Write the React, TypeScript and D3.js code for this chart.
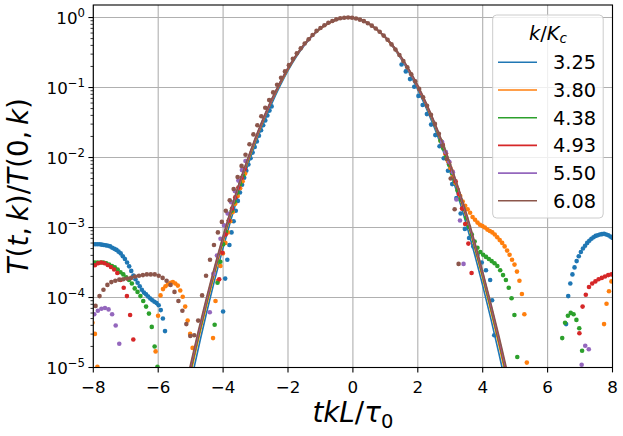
import * as d3 from "d3";

// figure geometry, px
const width = 623;
const height = 436;
const plot = { left: 93.3, right: 612.5, top: 5, bottom: 367.5 };
const font = "DejaVu Sans";

const kLabels = ["3.25", "3.80", "4.38", "4.93", "5.50", "6.08"];
const colors = ["#1f77b4", "#ff7f0e", "#2ca02c", "#d62728", "#9467bd", "#8c564b"];

const xTicks = [-8, -6, -4, -2, 0, 2, 4, 6, 8];
const yTickExp = [0, -1, -2, -3, -4, -5];

// fitted curves: log10 T(t,k)/T(0,k) at these tkL/tau0
const lineT = [-5.5, -5, -4.5, -4, -3.5, -3, -2.5, -2, -1.5, -1, -0.5, 0, 0.5, 1, 1.5, 2, 2.5, 3, 3.5, 4, 4.5, 5, 5.5];
const blueLine = [-6.36, -5.23, -4.2, -3.29, -2.49, -1.8, -1.23, -0.76, -0.4, -0.16, -0.03, -0.01, -0.09, -0.29, -0.6, -1.03, -1.56, -2.2, -2.96, -3.83, -4.8, -5.89, -7.09];
const orangeLine = [-6.19, -5.09, -4.1, -3.21, -2.43, -1.76, -1.19, -0.74, -0.39, -0.16, -0.03, 0, -0.09, -0.29, -0.59, -1.0, -1.52, -2.15, -2.88, -3.73, -4.68, -5.74, -6.91];
const greenLine = [-6.14, -5.05, -4.06, -3.18, -2.41, -1.74, -1.18, -0.73, -0.39, -0.15, -0.03, 0, -0.09, -0.28, -0.58, -0.99, -1.51, -2.13, -2.86, -3.7, -4.64, -5.69, -6.85];
const redLine = [-6.1, -5.01, -4.03, -3.16, -2.39, -1.73, -1.18, -0.73, -0.39, -0.15, -0.03, 0, -0.09, -0.28, -0.58, -0.99, -1.5, -2.12, -2.84, -3.67, -4.61, -5.65, -6.81];
const purpleLine = [-6.06, -4.98, -4.01, -3.14, -2.38, -1.72, -1.17, -0.72, -0.39, -0.15, -0.03, 0, -0.09, -0.28, -0.58, -0.98, -1.49, -2.1, -2.82, -3.65, -4.58, -5.62, -6.76];
const brownLine = [-6.03, -4.95, -3.98, -3.12, -2.36, -1.71, -1.16, -0.72, -0.38, -0.15, -0.03, 0, -0.09, -0.28, -0.57, -0.97, -1.48, -2.09, -2.8, -3.63, -4.55, -5.58, -6.72];

// measured points: [first t, spacing, log10 values]
type Seg = [number, number, number[]];

const blueDots: Seg[] = [
  [-8.0, 0.065, [-3.24, -3.24, -3.24, -3.24, -3.245, -3.25, -3.255, -3.26, -3.27, -3.29, -3.305, -3.32, -3.345, -3.37, -3.41, -3.45, -3.5, -3.555, -3.62, -3.685, -3.74, -3.79, -3.84, -3.89, -3.93, -3.955, -3.985, -4.015, -4.04, -4.06, -4.08, -4.11, -4.18, -4.3, -4.48]],
  [-4.0, 0.065, [-4.2, -3.73, -3.46, -3.25, -3.07, -2.91, -2.76, -2.62, -2.5, -2.39, -2.29, -2.19, -2.1, -2.01, -1.93, -1.85, -1.77, -1.69, -1.61, -1.54, -1.47, -1.4, -1.33, -1.27]],
  [1.5, 0.13, [-0.67, -0.77, -0.88, -0.99, -1.12, -1.25, -1.38, -1.53, -1.68, -1.84, -2.01, -2.19, -2.38, -2.58, -2.8, -3.02, -3.15, -3.27, -3.39, -3.5, -3.61, -3.75]],
  [4.29, 0.065, [-4.04, -4.54]],
  [6.57, 0.065, [-4.38, -3.98, -3.8, -3.67, -3.57, -3.48, -3.41, -3.35, -3.3, -3.26, -3.22, -3.19, -3.16, -3.14, -3.12, -3.11, -3.1, -3.095, -3.09, -3.1, -3.11, -3.13, -3.15]],
];
const orangeDots: Seg[] = [
  [-8.026, 0.076, [-4.36, -4.52, -4.99]],
  [-6.08, 0.076, [-4.77, -4.26, -3.97, -3.88, -3.84, -3.81, -3.79, -3.78, -3.8, -3.83, -3.9, -3.99, -4.13, -4.33, -4.52, -4.72]],
  [-4.31, 0.076, [-4.58, -4.05, -3.76, -3.55, -3.37, -3.22, -3.07, -2.91, -2.78, -2.66, -2.55, -2.44, -2.34, -2.23]],
  [2.7, 0.076, [-1.76, -1.85, -1.95, -2.05, -2.15, -2.26, -2.36, -2.46, -2.55, -2.63, -2.69, -2.74, -2.79, -2.85, -2.89, -2.93, -2.96, -2.98, -3.0, -3.03, -3.05, -3.07, -3.1, -3.14, -3.18, -3.22, -3.27, -3.33, -3.39, -3.46, -3.53, -3.63, -3.76, -3.95, -4.24, -4.93]],
  [7.74, 0.076, [-4.38, -4.09, -3.91, -3.77]],
];
const greenDots: Seg[] = [
  [-7.95, 0.0876, [-3.5, -3.5, -3.5, -3.5, -3.51, -3.53, -3.55, -3.57, -3.6, -3.64, -3.67, -3.71, -3.75, -3.8, -3.87, -3.92, -3.98, -4.05, -4.13, -4.23, -4.42, -4.7, -4.99]],
  [-4.26, 0.0876, [-4.39, -3.79, -3.49, -3.24, -3.06, -2.9, -2.76, -2.63, -2.5, -2.38, -2.26]],
  [2.7, 0.0876, [-1.76, -1.87, -1.99, -2.1, -2.22, -2.34, -2.47, -2.6, -2.73, -2.86, -2.99, -3.1, -3.2, -3.29, -3.35, -3.39, -3.42, -3.45, -3.48, -3.51, -3.55, -3.61, -3.68, -3.75, -3.86, -4.01, -4.25, -4.85]],
  [6.45, 0.0876, [-4.58, -4.36, -4.26, -4.22, -4.24, -4.32, -4.44, -4.76]],
];
const redDots: Seg[] = [
  [-7.95, 0.0986, [-3.54, -3.51, -3.5, -3.51, -3.535, -3.565, -3.6, -3.65, -3.75, -3.86, -3.98, -4.25, -4.6]],
  [-4.12, 0.0986, [-3.74, -3.36, -3.1, -2.9, -2.73, -2.57, -2.43, -2.29, -2.16]],
  [2.77, 0.0986, [-1.82, -1.94, -2.07, -2.2, -2.34, -2.52, -2.73, -2.95, -3.23, -3.65]],
  [6.98, 0.0986, [-4.51, -4.13, -3.96, -3.85, -3.8, -3.77, -3.74, -3.72, -3.7, -3.68, -3.67]],
];
const purpleDots: Seg[] = [
  [-7.97, 0.11, [-4.24, -4.19, -4.16, -4.15, -4.17, -4.24, -4.4, -4.66]],
  [-4.41, 0.11, [-4.21, -3.66, -3.4, -3.16, -2.97, -2.8, -2.64, -2.48, -2.33, -2.18, -2.05]],
  [2.75, 0.11, [-1.78, -1.92, -2.06, -2.21, -2.6, -2.9, -3.52]],
  [7.05, 0.11, [-4.96, -4.69, -4.74]],
];
const brownDots: Seg[] = [
  [-7.93, 0.1216, [
    -4.12, -3.98, -3.89, -3.82, -3.78, -3.76, -3.745, -3.74, -3.73, -3.72, -3.7, -3.69, -3.68, -3.67, -3.67, -3.67,
    -3.69, -3.72, -3.76, -3.82, -3.92, -4.05, -4.19, -4.38, -4.55, -4.54, -4.33, -3.97, -3.69, -3.46, -3.25, -3.07, -2.92, -2.76,
    -2.61, -2.45, -2.28, -2.12, -1.96, -1.81, -1.67, -1.54, -1.41, -1.29, -1.18, -1.07, -0.96, -0.86, -0.77, -0.68, -0.59, -0.51,
    -0.44, -0.37, -0.31, -0.25, -0.19, -0.15, -0.11, -0.075, -0.05, -0.026, -0.011, -0.003, 0, -0.004, -0.014, -0.03, -0.052,
    -0.081, -0.116, -0.157, -0.204, -0.258, -0.318, -0.384, -0.456, -0.535, -0.62, -0.71, -0.81, -0.91, -1.02, -1.14, -1.26,
    -1.39, -1.52, -1.66, -1.83, -2.02, -2.3, -2.74, -3.52,
  ]],
];

const lines = [blueLine, orangeLine, greenLine, redLine, purpleLine, brownLine];
const dots = [blueDots, orangeDots, greenDots, redDots, purpleDots, brownDots];

export default function App() {
  const x = d3.scaleLinear().domain([-8, 8]).range([plot.left, plot.right]);
  const y = d3.scaleLog().domain([1e-5, Math.pow(10, 0.179)]).range([plot.bottom, plot.top]);
  const yv = (lg: number) => y(Math.pow(10, lg));

  const line = d3
    .line<number>()
    .x((_, i) => x(lineT[i]))
    .y((d) => yv(d))
    .curve(d3.curveNatural);

  const minor = y.ticks().filter((v) => Math.abs(Math.log10(v) - Math.round(Math.log10(v))) > 1e-6);

  const legX = 492.7, legY = 15, legW = 110.5, legH = 203;
  const rowY = (i: number) => 62.3 + i * 27.7;

  return (
    <svg width={width} height={height} style={{ position: "absolute", left: 0, top: 0, background: "#fff" }} fontFamily={font}>
      <defs>
        <clipPath id="axes-clip">
          <rect x={plot.left} y={plot.top} width={plot.right - plot.left} height={plot.bottom - plot.top} />
        </clipPath>
      </defs>

      {/* grid */}
      <g stroke="#b0b0b0" strokeWidth={1.1}>
        {xTicks.map((t) => (
          <line key={`gx${t}`} x1={x(t)} x2={x(t)} y1={plot.top} y2={plot.bottom} />
        ))}
        {yTickExp.map((e) => (
          <line key={`gy${e}`} x1={plot.left} x2={plot.right} y1={yv(e)} y2={yv(e)} />
        ))}
      </g>

      {/* data */}
      <g clipPath="url(#axes-clip)">
        {lines.map((ln, s) => (
          <g key={s}>
            {dots[s].map(([t0, dt, vals], j) =>
              vals.map((v, i) => (
                <circle key={`${j}-${i}`} cx={x(t0 + i * dt)} cy={yv(v)} r={2.3} fill={colors[s]} />
              ))
            )}
            <path d={line(ln) ?? ""} fill="none" stroke={colors[s]} strokeWidth={1.6} />
          </g>
        ))}
      </g>

      {/* frame */}
      <rect x={plot.left} y={plot.top} width={plot.right - plot.left} height={plot.bottom - plot.top} fill="none" stroke="#000" strokeWidth={1.1} />

      {/* x axis */}
      {xTicks.map((t) => (
        <g key={`xt${t}`}>
          <line x1={x(t)} x2={x(t)} y1={plot.bottom} y2={plot.bottom + 4.9} stroke="#000" strokeWidth={1.1} />
          <text x={x(t)} y={392.5} textAnchor="middle" fontSize={16.7}>
            {t < 0 ? `\u2212${-t}` : `${t}`}
          </text>
        </g>
      ))}

      {/* y axis */}
      {minor.map((v, i) => (
        <line key={`ym${i}`} x1={plot.left - 2.8} x2={plot.left} y1={y(v)} y2={y(v)} stroke="#000" strokeWidth={0.8} />
      ))}
      {yTickExp.map((e) => (
        <g key={`yt${e}`}>
          <line x1={plot.left - 4.9} x2={plot.left} y1={yv(e)} y2={yv(e)} stroke="#000" strokeWidth={1.1} />
          <text x={85} y={yv(e) + 6} textAnchor="end" fontSize={16.7}>
            10
            <tspan dy={-6.5} fontSize={11.7}>
              {e === 0 ? "0" : `\u2212${-e}`}
            </tspan>
          </text>
        </g>
      ))}

      {/* axis labels */}
      <text x={(plot.left + plot.right) / 2} y={422} textAnchor="middle" fontSize={27.8}>
        <tspan fontStyle="italic">tkL</tspan>
        <tspan>/</tspan>
        <tspan fontStyle="italic">τ</tspan>
        <tspan fontSize={19.5} dy={6}>0</tspan>
      </text>
      <text transform={`translate(28,${(plot.top + plot.bottom) / 2}) rotate(-90)`} textAnchor="middle" fontSize={27.8}>
        <tspan fontStyle="italic">T</tspan>(<tspan fontStyle="italic">t</tspan>,{"\u2009"}
        <tspan fontStyle="italic">k</tspan>)/<tspan fontStyle="italic">T</tspan>(0,{"\u2009"}
        <tspan fontStyle="italic">k</tspan>)
      </text>

      {/* legend */}
      <rect x={legX} y={legY} width={legW} height={legH} rx={4} fill="#fff" fillOpacity={0.8} stroke="#cccccc" strokeWidth={1} />
      <text x={legX + legW / 2} y={39.5} textAnchor="middle" fontSize={19.4}>
        <tspan fontStyle="italic">k</tspan>/<tspan fontStyle="italic">K</tspan>
        <tspan fontStyle="italic" fontSize={13.6} dy={3.5}>c</tspan>
      </text>
      {kLabels.map((lab, i) => (
        <g key={lab}>
          <line x1={498} x2={537} y1={rowY(i)} y2={rowY(i)} stroke={colors[i]} strokeWidth={1.6} />
          <text x={553} y={rowY(i) + 7} fontSize={19.4}>
            {lab}
          </text>
        </g>
      ))}
    </svg>
  );
}
